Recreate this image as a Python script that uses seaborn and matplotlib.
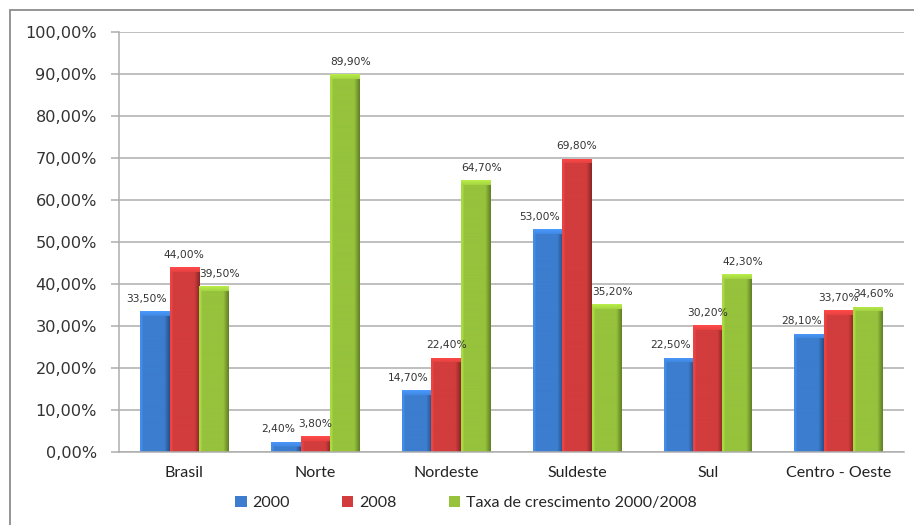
import numpy as np
import pandas as pd
import matplotlib
matplotlib.use("Agg")
import matplotlib.pyplot as plt
import seaborn as sns
from matplotlib.colors import to_rgb
from matplotlib.patches import Rectangle, Patch
from matplotlib.font_manager import FontProperties

# ---------------- data ----------------
categories = ["Brasil", "Norte", "Nordeste", "Suldeste", "Sul", "Centro - Oeste"]
series = ["2000", "2008", "Taxa de crescimento 2000/2008"]
values_2000 = [33.5, 2.4, 14.7, 53.0, 22.5, 28.1]
values_2008 = [44.0, 3.8, 22.4, 69.8, 30.2, 33.7]
values_taxa = [39.5, 89.9, 64.7, 35.2, 42.3, 34.6]
y_ticks = [0, 10, 20, 30, 40, 50, 60, 70, 80, 90, 100]

colors = ["#3C7DCF", "#D23C3C", "#96C23C"]
label_dx_px = [-8, 0, 6]  # horizontal nudge of data labels per series

df = pd.DataFrame({
    "Regiao": categories * 3,
    "Serie": [series[0]] * 6 + [series[1]] * 6 + [series[2]] * 6,
    "Valor": values_2000 + values_2008 + values_taxa,
})

def pct(v):
    return f"{v:.2f}%".replace(".", ",")

sns.set_theme(style="white")
plt.rcParams["font.family"] = ["DejaVu Sans"]

W, H = 914, 525
fig = plt.figure(figsize=(W / 100, H / 100), dpi=100)
fig.patch.set_facecolor("white")
ax = fig.add_axes([119 / W, 73 / H, 785 / W, 420 / H])

sns.barplot(data=df, x="Regiao", y="Valor", hue="Serie", order=categories,
            hue_order=series, palette=colors, width=0.675, gap=0,
            saturation=1, linewidth=0, legend=False, ax=ax, errorbar=None)

ax.set_xlim(-0.5, len(categories) - 0.5)
ax.set_ylim(0, 100)
ax.set_xlabel("")
ax.set_ylabel("")

# axes styling
grid_c = "#ADADAD"
ax.set_yticks(y_ticks)
ax.set_yticklabels([pct(t) for t in y_ticks],
                   fontproperties=FontProperties(family="DejaVu Sans", size=11.6),
                   color="#333333")
ax.yaxis.grid(True, color=grid_c, lw=1.1)
ax.set_axisbelow(True)
for s in ["top", "right"]:
    ax.spines[s].set_visible(False)
for s in ["left", "bottom"]:
    ax.spines[s].set_color(grid_c)
    ax.spines[s].set_linewidth(1.1)

ax.set_xticks(range(len(categories)))
ax.set_xticklabels(categories, fontproperties=FontProperties(family="Lato", size=11.5),
                   color="#222222")
ax.set_xticks(np.arange(-0.5, len(categories), 1.0), minor=True)
ax.tick_params(axis="x", which="major", length=0, pad=10)
ax.tick_params(axis="x", which="minor", length=5, color=grid_c, width=1.1, direction="out")
ax.tick_params(axis="y", which="major", length=6, color=grid_c, width=1.1,
               direction="out", pad=10, left=True)

# gradient "bevel" look on each bar
fig.canvas.draw()
px_per_unit = 420 / 100.0
for ci, cont in enumerate(ax.containers):
    base = np.array(to_rgb(colors[ci]))
    for rect in cont.patches:
        x0, y0 = rect.get_x(), rect.get_y()
        w, h = rect.get_width(), rect.get_height()
        hp = max(int(h * px_per_unit), 2)
        wp = 60
        xs = np.linspace(0, 1, wp)
        prof = np.ones(wp)
        prof = np.where(xs < 0.08, 1.12, prof)
        prof = np.where(xs > 0.82, 1.0 - 0.35 * (xs - 0.82) / 0.18, prof)
        img = np.tile(prof, (hp, 1))
        # top bevel (origin lower: last rows are top)
        bev = min(5, hp)
        for r in range(bev):
            row = hp - 1 - r
            img[row, :] = np.maximum(img[row, :], 1.22 - 0.03 * r)
        rgb = np.clip(base[None, None, :] * img[:, :, None], 0, 1)
        im = ax.imshow(rgb, extent=(x0, x0 + w, y0, y0 + h), origin="lower",
                       aspect="auto", zorder=rect.get_zorder() + 0.1,
                       interpolation="bilinear")
        im.set_clip_path(rect)
    # data labels
    for rect in cont.patches:
        v = rect.get_height()
        cx = rect.get_x() + rect.get_width() / 2
        ax.annotate(pct(v), (cx, v), xytext=(label_dx_px[ci] * 0.72, 9),
                    textcoords="offset points", ha="center", va="center",
                    fontsize=7.7, color="#333333", zorder=5)

ax.set_xlim(-0.5, len(categories) - 0.5)
ax.set_ylim(0, 100)

# legend
handles = [Patch(facecolor=c, edgecolor="none") for c in colors]
fig.legend(handles, series, loc="center", bbox_to_anchor=(466 / W, 22 / H),
           ncol=3, frameon=False, handlelength=0.7, handleheight=0.7,
           handletextpad=0.35, columnspacing=3.3,
           prop=FontProperties(family="Lato", size=11.5))

# outer chart frame (left and top edges visible)
fig.add_artist(Rectangle((10 / W, -0.1), 1.2, (H - 10) / H + 0.1,
                         transform=fig.transFigure, fill=False,
                         edgecolor="#8C8C8C", lw=1.3))

fig.savefig("out.png", dpi=100)
